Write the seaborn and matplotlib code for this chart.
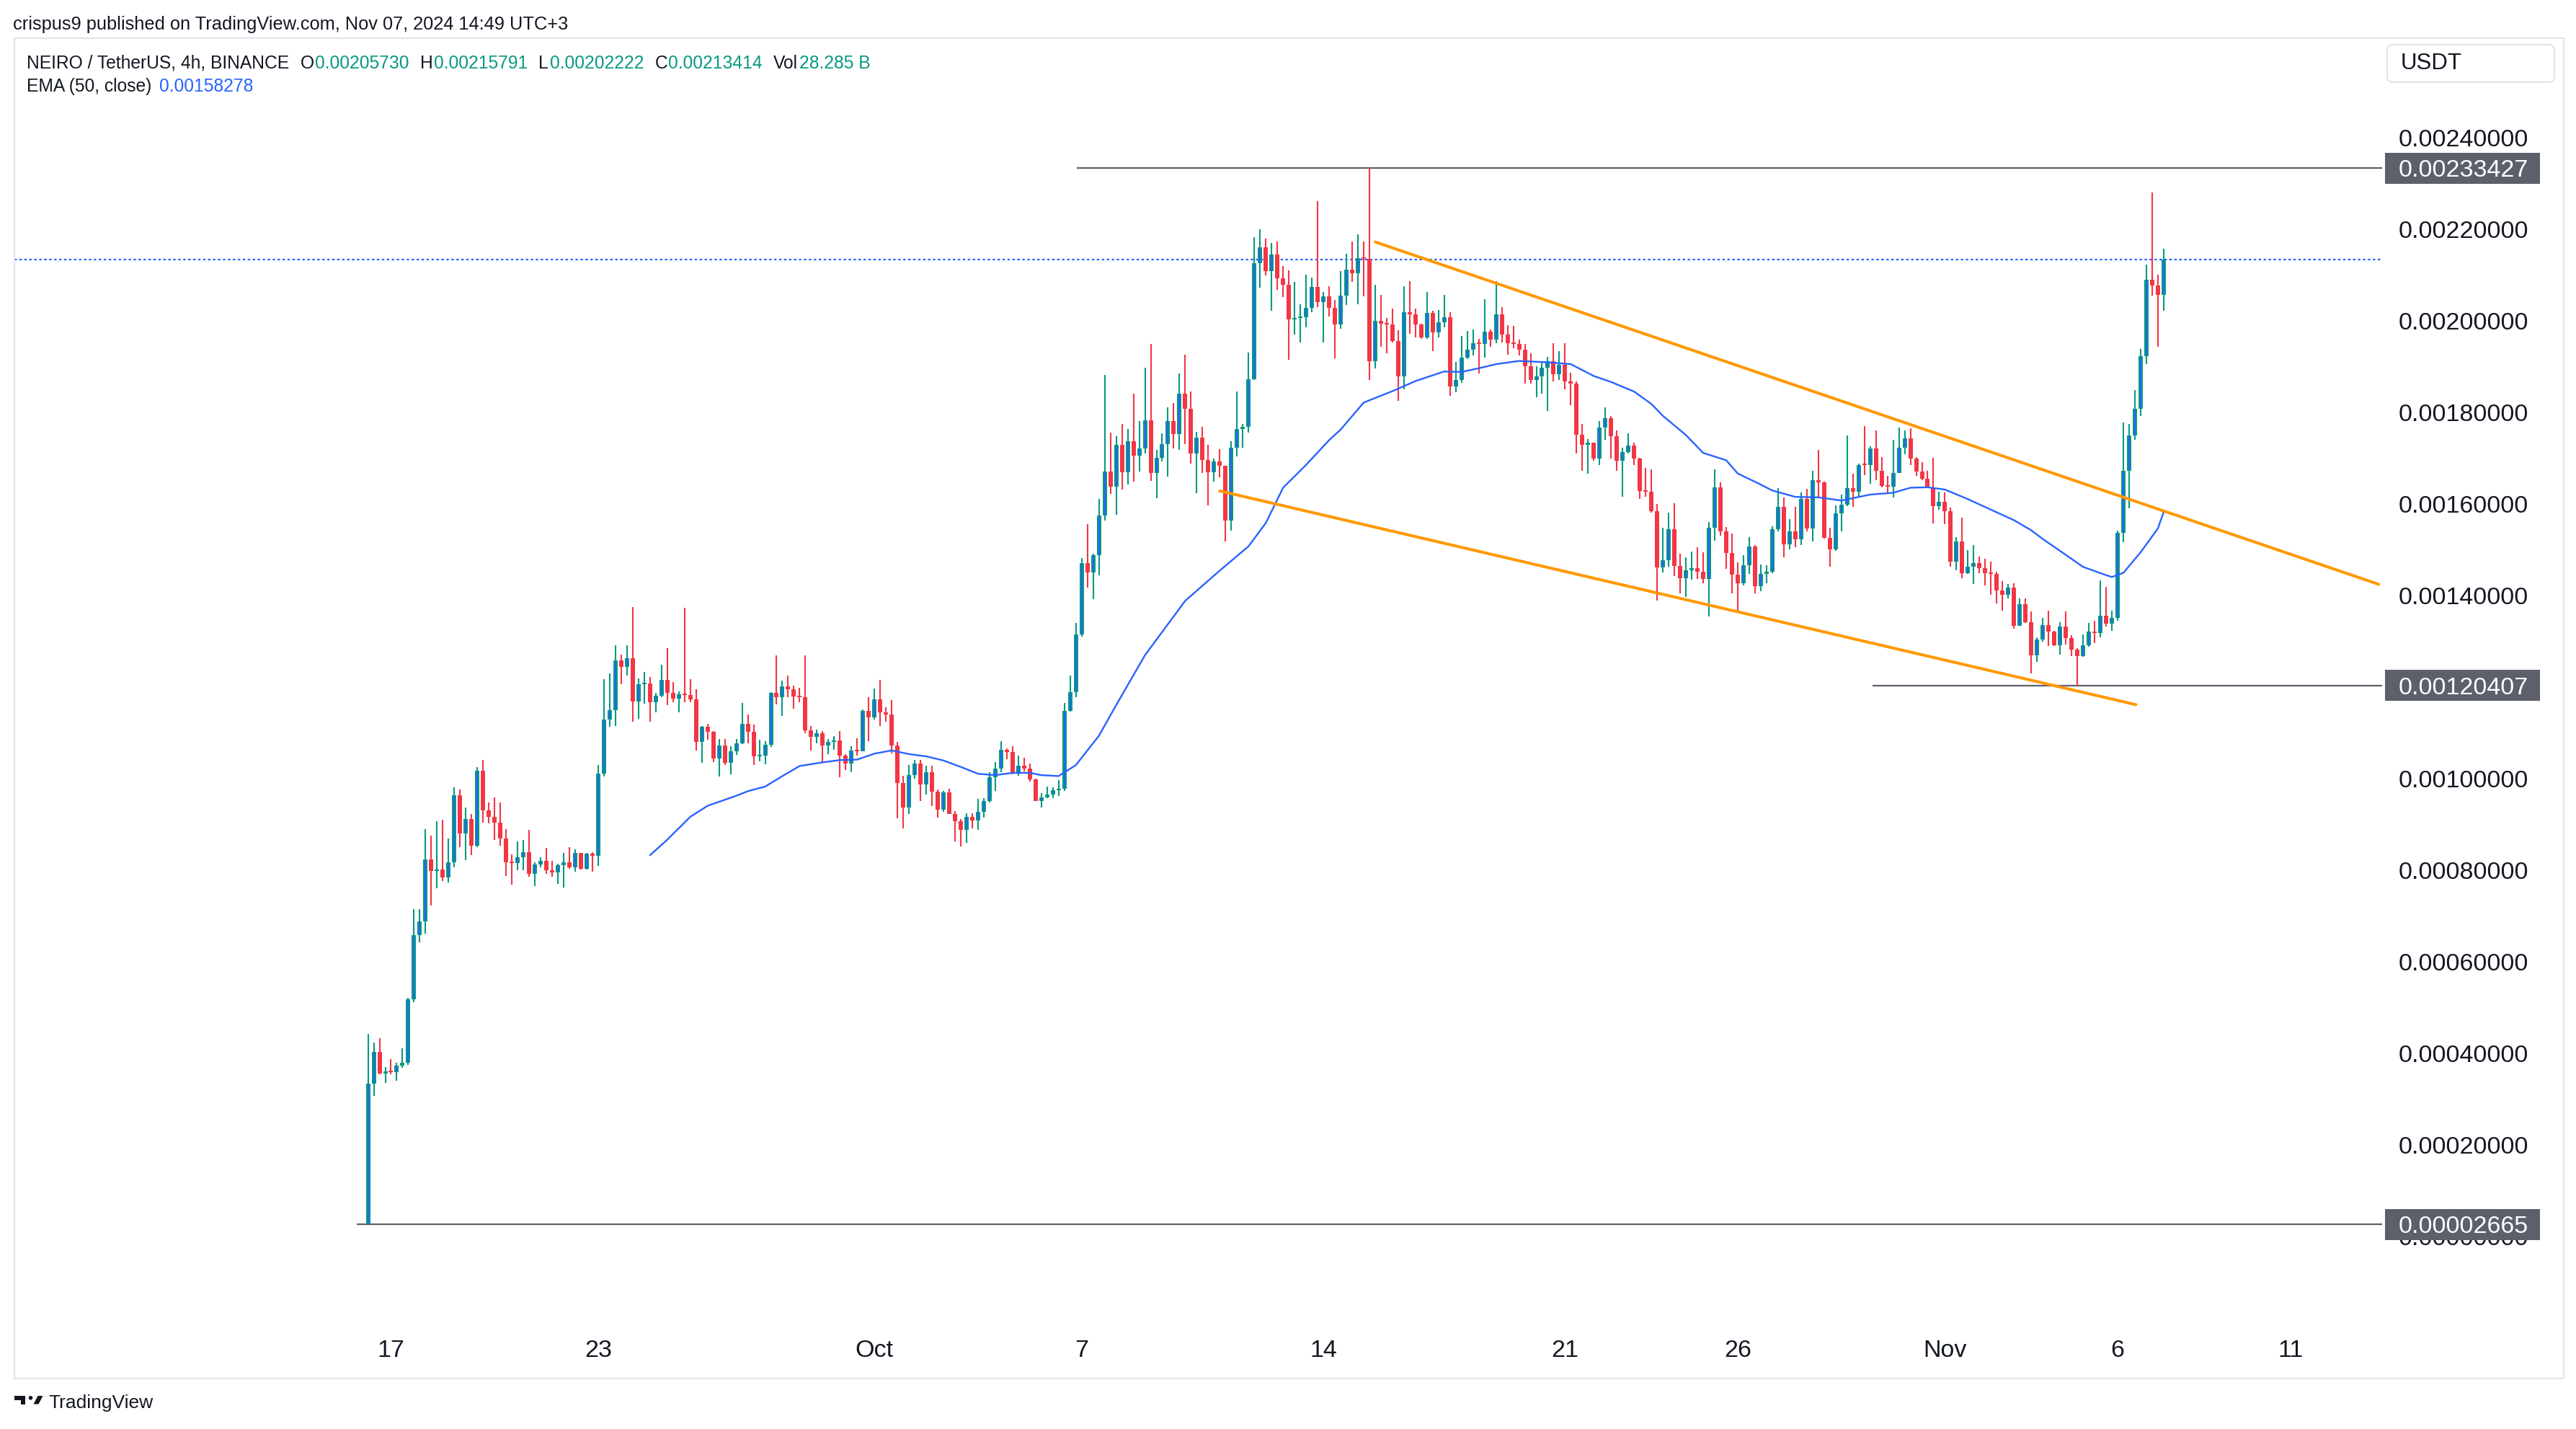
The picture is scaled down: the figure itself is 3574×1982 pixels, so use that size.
import numpy as np
import pandas as pd
import matplotlib
matplotlib.use('Agg')
import matplotlib.pyplot as plt
import matplotlib.transforms as mtransforms
from matplotlib.patches import Rectangle, FancyBboxPatch, Polygon, Circle
import seaborn as sns

# ------------------------------------------------------------
# Data: NEIRO/USDT 4h candles, prices in units of 0.00001 USDT
# first candle = 2024-09-16 08:00 (UTC+3)
# ------------------------------------------------------------
SCALE = 1e-5
FIRST_BAR = '2024-09-16 08:00'

opens = [
    2.67, 33.4, 40.3, 35.6, 36.1, 35.9, 37.3, 37.9, 51.9, 65.8,
    68.9, 82.4, 79.8, 80.2, 78.4, 81.7, 96.4, 88.1, 91.2, 85.4,
    101.7, 93.1, 91.7, 90.5, 86.9, 81.8, 81.6, 82.9, 83.9, 79.3,
    81.3, 82.0, 80.0, 79.5, 81.1, 81.8, 80.6, 83.8, 80.4, 83.6,
    83.1, 101.2, 113.0, 115.0, 125.8, 124.5, 126.3, 116.9, 120.7, 120.8,
    116.8, 118.2, 121.6, 118.8, 117.5, 118.4, 118.3, 117.3, 108.0, 111.3,
    110.2, 104.4, 107.3, 103.5, 106.0, 107.7, 112.0, 110.2, 104.9, 105.1,
    107.4, 118.7, 117.9, 120.2, 119.6, 118.0, 117.9, 110.6, 109.2, 109.9,
    107.2, 108.1, 108.4, 105.0, 103.3, 106.2, 106.0, 114.8, 113.4, 117.4,
    114.6, 114.0, 107.3, 99.1, 93.7, 100.8, 103.4, 98.8, 101.5, 97.2,
    93.3, 97.0, 92.3, 90.7, 88.8, 91.7, 90.9, 92.8, 95.1, 100.3,
    102.3, 106.3, 105.9, 101.1, 102.9, 102.3, 99.8, 95.1, 96.0, 96.5,
    97.5, 97.8, 114.8, 118.9, 131.6, 147.2, 145.1, 148.9, 157.6, 167.2,
    163.9, 172.9, 167.0, 173.8, 170.6, 172.2, 178.4, 166.8, 170.2, 173.1,
    178.1, 175.4, 184.1, 180.8, 171.0, 174.5, 169.7, 167.0, 169.3, 168.4,
    156.4, 172.4, 176.5, 176.9, 187.3, 212.6, 216.2, 210.9, 214.5, 209.3,
    207.9, 200.4, 200.7, 200.9, 202.9, 207.5, 204.1, 205.4, 202.9, 199.3,
    205.5, 211.3, 210.4, 213.8, 213.6, 191.2, 200.0, 199.5, 199.2, 195.7,
    187.9, 201.9, 201.5, 199.3, 196.4, 201.8, 197.5, 199.8, 200.9, 185.8,
    187.1, 192.0, 193.8, 195.2, 195.0, 197.7, 196.0, 201.5, 197.1, 195.2,
    195.0, 193.8, 190.1, 187.2, 187.9, 189.9, 191.2, 188.4, 190.4, 186.8,
    186.4, 175.2, 172.9, 173.4, 170.0, 176.7, 178.8, 174.8, 169.5, 171.4,
    172.8, 170.0, 162.9, 162.7, 158.5, 146.2, 147.7, 154.5, 146.5, 143.9,
    145.6, 146.1, 145.3, 143.6, 154.8, 163.7, 154.0, 149.3, 144.6, 142.8,
    146.7, 150.8, 142.1, 144.8, 145.3, 154.5, 159.4, 151.3, 154.1, 152.4,
    161.2, 154.7, 165.2, 164.7, 152.7, 150.1, 158.0, 159.9, 163.5, 162.7,
    168.6, 168.5, 172.2, 167.3, 164.0, 163.8, 166.9, 172.3, 174.4, 169.9,
    167.2, 165.5, 163.6, 159.5, 160.6, 158.5, 147.5, 151.8, 145.0, 146.4,
    147.1, 146.1, 145.0, 144.8, 141.1, 140.2, 141.8, 133.5, 138.1, 134.2,
    127.0, 130.5, 133.6, 132.2, 129.2, 133.3, 130.7, 128.3, 126.8, 129.2,
    132.2, 131.8, 135.6, 133.9, 135.2, 153.8, 167.3, 175.0, 180.9, 192.4,
    209.0, 207.8, 205.730,
]
highs = [
    44.2, 42.4, 43.3, 37.0, 38.8, 37.9, 41.1, 52.2, 71.5, 71.5,
    89.0, 87.6, 90.8, 91.1, 86.9, 98.1, 97.7, 93.8, 92.3, 102.6,
    104.1, 94.9, 96.0, 94.9, 89.0, 83.5, 86.3, 86.6, 88.8, 81.8,
    82.9, 84.9, 82.0, 81.5, 83.8, 85.1, 84.6, 83.8, 83.8, 84.0,
    103.0, 121.7, 123.1, 129.2, 127.2, 129.2, 137.6, 122.0, 123.4, 122.2,
    118.7, 125.0, 128.5, 121.1, 119.1, 137.4, 121.7, 119.6, 111.5, 112.0,
    110.4, 108.7, 108.7, 107.1, 108.7, 116.6, 114.1, 111.9, 108.5, 108.3,
    118.9, 126.9, 121.5, 122.5, 120.4, 119.9, 126.9, 111.5, 110.8, 110.4,
    108.7, 109.3, 110.5, 105.4, 107.1, 108.9, 115.2, 117.8, 119.8, 121.6,
    115.6, 117.2, 108.0, 100.7, 103.0, 104.1, 104.2, 102.8, 102.8, 97.7,
    97.4, 97.9, 93.0, 91.2, 92.4, 92.4, 95.6, 95.8, 101.4, 103.6,
    108.3, 106.6, 107.1, 105.0, 104.6, 103.3, 100.0, 96.9, 98.3, 98.1,
    99.7, 116.6, 122.5, 134.1, 148.2, 155.7, 149.2, 161.1, 188.2, 175.6,
    174.9, 177.6, 176.5, 184.2, 178.1, 189.8, 195.0, 171.8, 175.5, 181.1,
    182.1, 188.5, 192.6, 184.7, 175.8, 176.9, 172.9, 169.9, 172.0, 168.4,
    173.8, 184.6, 177.6, 193.2, 218.3, 220.1, 218.1, 217.1, 217.4, 212.0,
    211.1, 208.6, 203.7, 210.2, 209.5, 226.2, 206.4, 207.7, 204.6, 210.9,
    214.7, 217.4, 219.0, 217.4, 233.427, 207.9, 205.7, 200.7, 202.8, 198.0,
    207.7, 208.8, 202.8, 199.5, 206.4, 202.2, 202.5, 205.8, 202.0, 191.1,
    196.7, 197.9, 198.1, 196.1, 204.8, 198.1, 208.7, 203.0, 199.1, 199.0,
    195.9, 195.0, 193.0, 190.1, 191.0, 192.2, 195.2, 193.4, 195.2, 188.7,
    186.8, 177.6, 174.3, 173.5, 178.2, 181.2, 179.3, 176.1, 172.4, 175.5,
    173.5, 170.2, 168.0, 167.6, 160.1, 154.9, 158.2, 160.2, 149.2, 148.4,
    149.7, 150.6, 149.5, 156.1, 167.6, 164.7, 155.0, 153.6, 147.3, 148.9,
    152.8, 151.0, 146.8, 146.6, 155.2, 163.5, 161.5, 156.7, 159.4, 162.5,
    163.3, 167.3, 171.8, 165.0, 154.8, 159.7, 162.1, 175.0, 166.6, 168.8,
    177.0, 172.7, 176.1, 170.3, 166.2, 174.0, 176.8, 176.1, 176.6, 170.3,
    169.2, 167.3, 170.1, 162.8, 162.5, 159.3, 152.8, 157.1, 150.0, 151.0,
    148.6, 148.0, 147.5, 145.2, 143.2, 142.6, 142.8, 139.4, 139.4, 136.5,
    130.9, 135.1, 136.7, 132.4, 134.2, 136.6, 131.4, 128.6, 131.5, 134.1,
    134.6, 143.4, 142.0, 136.7, 154.2, 177.9, 177.6, 185.0, 193.9, 212.4,
    228.1, 210.2, 215.791,
]
lows = [
    2.665, 30.7, 35.4, 33.6, 35.4, 34.1, 36.8, 37.5, 51.2, 64.3,
    66.1, 72.3, 76.1, 77.7, 77.4, 80.6, 85.1, 82.2, 83.3, 85.1,
    90.4, 90.2, 86.6, 85.4, 78.8, 76.8, 80.1, 80.1, 78.6, 76.5,
    80.6, 79.3, 78.6, 77.1, 76.3, 80.4, 79.7, 80.2, 80.2, 79.7,
    80.9, 100.5, 111.4, 111.6, 120.7, 122.5, 112.5, 113.1, 116.4, 112.5,
    114.5, 117.8, 116.1, 116.8, 114.5, 116.8, 116.8, 106.2, 103.5, 108.6,
    103.7, 100.5, 103.0, 101.0, 105.3, 107.6, 107.8, 103.0, 103.8, 103.2,
    107.0, 116.2, 113.7, 117.9, 115.3, 116.8, 109.9, 106.1, 107.7, 103.7,
    105.4, 106.4, 100.3, 101.9, 101.4, 105.1, 106.0, 108.2, 113.0, 111.6,
    112.5, 105.5, 91.4, 89.2, 92.3, 100.1, 95.1, 96.5, 94.0, 91.6,
    92.8, 92.3, 86.4, 85.3, 86.0, 89.1, 88.8, 91.6, 94.8, 97.3,
    101.5, 104.3, 100.9, 100.6, 101.6, 99.4, 95.1, 93.8, 95.8, 95.8,
    96.3, 97.4, 114.7, 117.9, 131.1, 141.7, 139.2, 144.4, 156.4, 162.3,
    157.7, 163.2, 164.3, 165.0, 167.2, 171.1, 165.1, 161.3, 169.3, 166.1,
    172.2, 171.8, 173.1, 168.9, 162.4, 166.8, 159.7, 165.0, 165.9, 151.9,
    154.3, 170.4, 172.4, 175.6, 187.1, 207.3, 210.0, 202.2, 206.8, 205.2,
    191.6, 197.1, 195.3, 198.6, 202.0, 203.1, 195.4, 201.0, 191.8, 198.4,
    203.6, 208.6, 203.7, 205.4, 187.1, 189.6, 194.4, 193.0, 195.3, 182.6,
    185.1, 197.3, 196.4, 196.2, 196.2, 193.4, 196.4, 198.7, 183.7, 184.5,
    186.5, 191.7, 192.5, 188.6, 192.0, 194.4, 195.2, 195.3, 192.7, 194.0,
    192.5, 186.3, 186.3, 183.4, 184.2, 180.4, 186.8, 187.2, 185.1, 181.6,
    171.1, 167.3, 166.6, 169.5, 168.6, 174.0, 170.0, 167.3, 161.7, 171.1,
    168.6, 161.1, 161.7, 158.1, 139.0, 145.1, 146.4, 144.3, 140.5, 139.8,
    143.5, 143.6, 142.8, 135.5, 152.0, 153.1, 145.8, 140.5, 136.4, 142.3,
    144.7, 140.5, 141.0, 142.8, 144.9, 154.1, 148.4, 150.2, 150.6, 151.0,
    154.1, 151.8, 161.4, 152.5, 146.4, 149.8, 154.1, 159.6, 159.4, 161.5,
    166.4, 164.5, 165.2, 163.6, 162.3, 161.5, 166.9, 170.9, 168.6, 166.2,
    165.2, 163.6, 155.8, 158.8, 155.6, 146.4, 145.5, 143.9, 144.8, 142.6,
    145.0, 142.2, 140.2, 138.3, 136.8, 139.4, 132.8, 133.5, 134.1, 123.1,
    125.5, 129.9, 129.0, 129.0, 127.2, 129.4, 126.8, 120.407, 126.6, 128.9,
    129.6, 130.9, 133.3, 132.4, 134.5, 151.7, 159.1, 174.0, 179.2, 190.6,
    205.6, 194.4, 202.222,
]
closes = [
    33.4, 40.3, 35.6, 36.1, 35.9, 37.3, 37.9, 51.9, 65.8, 68.9,
    82.4, 79.8, 80.2, 78.4, 81.7, 96.4, 88.1, 91.2, 85.4, 101.7,
    93.1, 91.7, 90.5, 86.9, 81.8, 81.6, 82.9, 83.9, 79.3, 81.3,
    82.0, 80.0, 79.5, 81.1, 81.8, 80.6, 83.8, 80.4, 83.6, 83.1,
    101.2, 113.0, 115.0, 125.8, 124.5, 126.3, 116.9, 120.7, 120.8, 116.8,
    118.2, 121.6, 118.8, 117.5, 118.4, 118.3, 117.3, 108.0, 111.3, 110.2,
    104.4, 107.3, 103.5, 106.0, 107.7, 112.0, 110.2, 104.9, 105.1, 107.4,
    118.7, 117.9, 120.2, 119.6, 118.0, 117.9, 110.6, 109.2, 109.9, 107.2,
    108.1, 108.4, 105.0, 103.3, 106.2, 106.0, 114.8, 113.4, 117.4, 114.6,
    114.0, 107.3, 99.1, 93.7, 100.8, 103.4, 98.8, 101.5, 97.2, 93.3,
    97.0, 92.3, 90.7, 88.8, 91.7, 90.9, 92.8, 95.1, 100.3, 102.3,
    106.3, 105.9, 101.1, 102.9, 102.3, 99.8, 95.1, 96.0, 96.5, 97.5,
    97.8, 114.8, 118.9, 131.6, 147.2, 145.1, 148.9, 157.6, 167.2, 163.9,
    172.9, 167.0, 173.8, 170.6, 172.2, 178.4, 166.8, 170.2, 173.1, 178.1,
    175.4, 184.1, 180.8, 171.0, 174.5, 169.7, 167.0, 169.3, 168.4, 156.4,
    172.4, 176.5, 176.9, 187.3, 212.6, 216.2, 210.9, 214.5, 209.3, 207.9,
    200.4, 200.7, 200.9, 202.9, 207.5, 204.1, 205.4, 202.9, 199.3, 205.5,
    211.3, 210.4, 213.8, 213.6, 191.2, 200.0, 199.5, 199.2, 195.7, 187.9,
    201.9, 201.5, 199.3, 196.4, 201.8, 197.5, 199.8, 200.9, 185.8, 187.1,
    192.0, 193.8, 195.2, 195.0, 197.7, 196.0, 201.5, 197.1, 195.2, 195.0,
    193.8, 190.1, 187.2, 187.9, 189.9, 191.2, 188.4, 190.4, 186.8, 186.4,
    175.2, 172.9, 173.4, 170.0, 176.7, 178.8, 174.8, 169.5, 171.4, 172.8,
    170.0, 162.9, 162.7, 158.5, 146.2, 147.7, 154.5, 146.5, 143.9, 145.6,
    146.1, 145.3, 143.6, 154.8, 163.7, 154.0, 149.3, 144.6, 142.8, 146.7,
    150.8, 142.1, 144.8, 145.3, 154.5, 159.4, 151.3, 154.1, 152.4, 161.2,
    154.7, 165.2, 164.7, 152.7, 150.1, 158.0, 159.9, 163.5, 162.7, 168.6,
    168.5, 172.2, 167.3, 164.0, 163.8, 166.9, 172.3, 174.4, 169.9, 167.2,
    165.5, 163.6, 159.5, 160.6, 158.5, 147.5, 151.8, 145.0, 146.4, 147.1,
    146.1, 145.0, 144.8, 141.1, 140.2, 141.8, 133.5, 138.1, 134.2, 127.0,
    130.5, 133.6, 132.2, 129.2, 133.3, 130.7, 128.3, 126.8, 129.2, 132.2,
    131.8, 135.6, 133.9, 135.2, 153.8, 167.3, 175.0, 180.9, 192.4, 209.0,
    207.8, 205.8, 213.414,
]
volume_text = '28.285 B'

# EMA(50, close) at these bar numbers
ema_bar = [49, 52, 56, 59, 64, 66, 69, 72, 75, 79, 82, 85, 88, 91, 94, 97, 100,
           103, 106, 109, 112, 115, 117, 120, 123, 127, 130, 135, 142, 148, 153,
           156, 159, 163, 167, 169, 173, 178, 182, 187, 190, 193, 196, 200, 205,
           209, 213, 216, 220, 223, 225, 229, 232, 236, 238, 241, 244, 248, 252,
           256, 261, 265, 268, 271, 274, 278, 282, 286, 289, 291, 294, 298, 302,
           303, 305, 308, 311, 312]
ema_val = [83.3, 86.7, 91.7, 94.1, 96.3, 97.3, 98.3, 100.6, 102.8, 103.6, 104.1,
           104.2, 105.5, 106.2, 105.4, 104.9, 104.0, 102.6, 101.1, 100.8, 101.3,
           101.3, 100.8, 100.6, 103.0, 109.4, 116.1, 127.0, 138.9, 145.5, 150.8,
           155.9, 163.6, 168.6, 174.0, 176.3, 182.2, 184.7, 186.9, 189.0, 188.9,
           189.7, 190.6, 191.3, 191.0, 190.6, 188.0, 186.7, 184.6, 181.9, 179.3,
           175.1, 171.2, 169.6, 166.7, 164.9, 163.0, 161.6, 161.5, 160.8, 162.1,
           162.5, 163.6, 163.7, 163.2, 161.1, 158.8, 156.5, 154.3, 152.4, 149.8,
           146.3, 144.5, 144.1, 145.0, 149.5, 154.7, 158.278]

# horizontal levels (price, start day counted from Sep 17)
level_price = [0.00233427, 0.00120407, 0.00002665]
level_start = [19.86, 42.9, -1.0]

# falling wedge (days from Sep 17, price units)
upper_days = [28.5, 57.56]
upper_vals = [217.3, 142.5]
lower_days = [24.0, 50.53]
lower_vals = [162.9, 116.2]

price_ticks = [0.0, 0.0002, 0.0004, 0.0006, 0.0008, 0.0010, 0.0012,
               0.0014, 0.0016, 0.0018, 0.0020, 0.0022, 0.0024]
date_tick_days = [0, 6, 14, 20, 27, 34, 39, 45, 50, 55]
date_tick_labels = ['17', '23', 'Oct', '7', '14', '21', '26', 'Nov', '6', '11']

# ------------------------------------------------------------
# style
# ------------------------------------------------------------
GREEN = '#089981'
RED = '#F23645'
BLUE = '#2962FF'
ORANGE = '#FF9800'
DARK = '#131722'
LEVEL = '#5D606B'
FRAME = '#E0E3EB'

sns.set_theme(style='white')
plt.rcParams['font.family'] = ['Liberation Sans', 'DejaVu Sans']

W, H = 3574, 1982
fig = plt.figure(figsize=(W / 100, H / 100), dpi=100)
fig.patch.set_facecolor('white')

def fx(px):
    return px / W

def fy(py):
    return 1 - py / H

# pane pixel geometry
AX_L, AX_R, AX_T, AX_B = 20, 3305, 53, 1830
PX_PRICE = 0.0002 / 126.96          # price per pixel
def price_at(py):
    return (1715 - py) * PX_PRICE
def day_at(px):
    return (px - 542.5) / 47.91

ax = fig.add_axes([fx(AX_L), fy(AX_B), fx(AX_R) - fx(AX_L), fy(AX_T) - fy(AX_B)])
ax.set_facecolor('white')
for s in ax.spines.values():
    s.set_visible(False)
ax.set_xlim(day_at(AX_L), day_at(AX_R))
ax.set_ylim(price_at(AX_B), price_at(AX_T))

# ------------------------------------------------------------
# candles
# ------------------------------------------------------------
times = pd.date_range(FIRST_BAR, periods=len(closes), freq='4h')
x = ((times - pd.Timestamp('2024-09-17')) / pd.Timedelta(days=1)).to_numpy()
o = np.array(opens) * SCALE
h = np.array(highs) * SCALE
l = np.array(lows) * SCALE
c = np.array(closes) * SCALE
up = c >= o

body_w = 6 / 47.91
min_h = 2 * PX_PRICE
bottom = np.minimum(o, c)
height = np.maximum(np.abs(c - o), min_h)

ax.vlines(x[up], l[up], h[up], color=GREEN, lw=1.5, zorder=3)
ax.vlines(x[~up], l[~up], h[~up], color=RED, lw=1.5, zorder=3)
ax.bar(x[up], height[up], bottom=bottom[up], width=body_w, color=GREEN, linewidth=0, zorder=4)
ax.bar(x[~up], height[~up], bottom=bottom[~up], width=body_w, color=RED, linewidth=0, zorder=4)
inner = up & ((c - o) > 4 * PX_PRICE)
ax.vlines(x[inner], o[inner] + PX_PRICE, c[inner] - PX_PRICE, color=BLUE, lw=1.4, zorder=5)

# EMA
sns.lineplot(x=x[ema_bar], y=np.array(ema_val) * SCALE, ax=ax, color=BLUE,
             linewidth=1.7, zorder=6, legend=False)

# levels
xmax = day_at(AX_R)
for p, start in zip(level_price, level_start):
    ax.hlines(p, start, xmax, color=LEVEL, lw=1.6, zorder=2)
ax.axhline(c[-1], color=BLUE, lw=1.6, ls=(0, (1.5, 1.6)), zorder=2)

# wedge
sns.lineplot(x=upper_days, y=np.array(upper_vals) * SCALE, ax=ax, color=ORANGE,
             linewidth=2.9, zorder=7, legend=False)
sns.lineplot(x=lower_days, y=np.array(lower_vals) * SCALE, ax=ax, color=ORANGE,
             linewidth=2.9, zorder=7, legend=False)

# ------------------------------------------------------------
# axes / ticks
# ------------------------------------------------------------
ax.yaxis.tick_right()
ax.set_yticks(price_ticks)
ax.set_yticklabels([f'{v:.8f}' for v in price_ticks])
ax.set_xticks(date_tick_days)
ax.set_xticklabels(date_tick_labels)
ax.tick_params(axis='y', length=0, pad=16.5, labelsize=24.5, labelcolor=DARK)
ax.tick_params(axis='x', length=0, pad=20, labelsize=24.5, labelcolor=DARK)
ax.grid(False)
ax.set_xlabel('')
ax.set_ylabel('')

# price tags on the right scale
trans = mtransforms.blended_transform_factory(ax.transAxes, ax.transData)
ax_w = AX_R - AX_L
def afrac(px):
    return (px - AX_L) / ax_w
half = 21.5 * PX_PRICE
for p in level_price:
    ax.add_patch(Rectangle((afrac(3309), p - half), afrac(3524) - afrac(3309), 2 * half,
                           transform=trans, clip_on=False, facecolor=LEVEL,
                           edgecolor='none', zorder=10))
    ax.text(afrac(3328), p, f'{p:.8f}', transform=trans, ha='left', va='center_baseline',
            color='white', fontsize=24.5, zorder=11)

# outer frame
fig.add_artist(Rectangle((fx(20), fy(1912)), fx(3557) - fx(20), fy(53) - fy(1912),
                         transform=fig.transFigure, fill=False, edgecolor=FRAME, lw=1.5))

# USDT box
pix = mtransforms.IdentityTransform()
fig.add_artist(FancyBboxPatch((3312, H - 114), 232, 52, boxstyle='round,pad=0,rounding_size=8',
                              transform=pix, facecolor='white', edgecolor=FRAME, lw=1.5))
fig.text(fx(3331), fy(88), 'USDT', fontsize=22.5, color=DARK, va='center', ha='left')

# ------------------------------------------------------------
# header texts
# ------------------------------------------------------------
fig.text(fx(18), fy(34), 'crispus9 published on TradingView.com, Nov 07, 2024 14:49 UTC+3',
         fontsize=18.3, color=DARK, va='center', ha='left')

def chain(parts, x_px, y_px, size):
    t = fig.text(fx(x_px), fy(y_px), parts[0][0], color=parts[0][1], fontsize=size,
                 va='center', ha='left')
    for s, col, gap in parts[1:]:
        t = ax.annotate(s, xy=(1, 0), xycoords=t, xytext=(gap, 0), textcoords='offset points',
                        va='bottom', ha='left', color=col, fontsize=size, annotation_clip=False)

chain([('NEIRO / TetherUS, 4h, BINANCE', DARK, 0),
       ('O', DARK, 11), (f'{o[-1]:.8f}', GREEN, 1),
       ('H', DARK, 11), (f'{h[-1]:.8f}', GREEN, 1),
       ('L', DARK, 11), (f'{l[-1]:.8f}', GREEN, 1),
       ('C', DARK, 11), (f'{c[-1]:.8f}', GREEN, 1),
       ('Vol', DARK, 11), (volume_text, GREEN, 1)], 37, 88, 17.7)
chain([('EMA (50, close)', DARK, 0), (f'{ema_val[-1] * SCALE:.8f}', BLUE, 8)], 37, 120, 17.7)

# footer logo (pixel coordinates, y measured from the top)
def py(v):
    return H - v
fig.add_artist(Polygon([(20, py(1936)), (35, py(1936)), (35, py(1947.5)), (28.5, py(1947.5)),
                        (28.5, py(1941.5)), (20, py(1941.5))], closed=True,
                       transform=pix, facecolor=DARK, edgecolor='none'))
fig.add_artist(Circle((42.5, py(1938.8)), 2.8, transform=pix, facecolor=DARK, edgecolor='none'))
fig.add_artist(Polygon([(46.5, py(1947.5)), (53.5, py(1947.5)), (59.5, py(1936)), (52.5, py(1936))],
                       closed=True, transform=pix, facecolor=DARK, edgecolor='none'))
fig.text(fx(67), fy(1946), 'TradingView', fontsize=19, color=DARK, va='center', ha='left')

fig.savefig('out.png', dpi=100, facecolor='white')
